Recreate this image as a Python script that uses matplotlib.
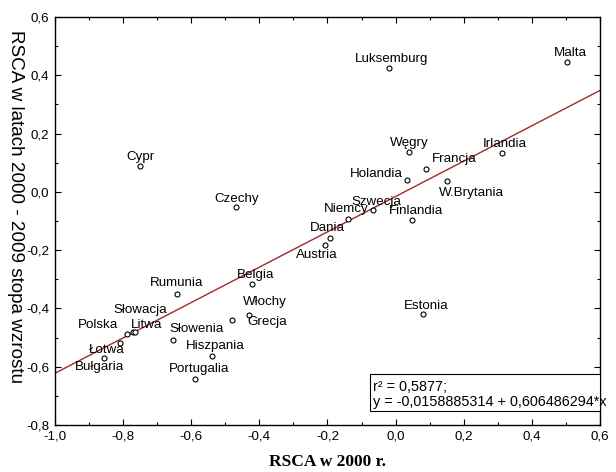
import numpy as np
import matplotlib
matplotlib.use("Agg")
import matplotlib.pyplot as plt
from matplotlib.ticker import MultipleLocator, FuncFormatter
from matplotlib.patches import Rectangle

# RSCA values
countries = ["Luksemburg", "Malta", "Węgry", "Irlandia", "Francja", "Holandia",
             "W.Brytania", "Szwecja", "Niemcy", "Finlandia", "Dania", "Austria",
             "Belgia", "Cypr", "Czechy", "Rumunia", "Estonia", "Włochy", "Grecja",
             "Słowenia", "Hiszpania", "Portugalia", "Słowacja", "Polska", "Litwa",
             "Łotwa", "Bułgaria"]
rsca_2000 = [-0.018, 0.504, 0.040, 0.313, 0.088, 0.034,
             0.152, -0.065, -0.141, 0.048, -0.193, -0.207,
             -0.421, -0.750, -0.469, -0.643, 0.081, -0.430, -0.481,
             -0.654, -0.539, -0.590, -0.770, -0.788, -0.765,
             -0.808, -0.857]
rsca_growth = [0.425, 0.444, 0.136, 0.135, 0.078, 0.042,
               0.037, -0.062, -0.093, -0.098, -0.157, -0.184,
               -0.315, 0.088, -0.052, -0.349, -0.418, -0.422, -0.439,
               -0.508, -0.563, -0.642, -0.480, -0.487, -0.482,
               -0.519, -0.571]

intercept = -0.0158885314
slope = 0.606486294
r2 = 0.5877

# label placement (pixels from the point)
label_offsets = {
    "Luksemburg": (2, 9), "Malta": (3, 9), "Węgry": (0, 9), "Irlandia": (3, 9),
    "Francja": (29, 10), "Holandia": (-31, 6), "W.Brytania": (24, -12),
    "Szwecja": (3, 8), "Niemcy": (-1, 10), "Finlandia": (4, 9), "Dania": (-3, 10),
    "Austria": (-8, -10), "Belgia": (3, 9), "Cypr": (0, 9), "Czechy": (1, 8),
    "Rumunia": (0, 11), "Estonia": (3, 8), "Włochy": (16, 13), "Grecja": (35, -2),
    "Słowenia": (24, 11), "Hiszpania": (3, 10), "Portugalia": (4, 10),
    "Słowacja": (7, 22), "Polska": (-29, 9), "Litwa": (12, 7),
    "Łotwa": (-14, -7), "Bułgaria": (-4, -9),
}

plt.rcParams["font.family"] = ["Liberation Sans", "DejaVu Sans"]

fig = plt.figure(figsize=(6.16, 4.72), dpi=100)
ax = fig.add_axes([0.0893, 0.0996, 0.8847, 0.8644])

xx = np.array([-1.0, 0.6])
ax.plot(xx, intercept + slope * xx, color="#9e2a2b", lw=1.0, zorder=2)

ax.plot(rsca_2000, rsca_growth, "o", ms=3.6, mfc="white", mec="black",
        mew=0.8, zorder=3)

for name, x, y in zip(countries, rsca_2000, rsca_growth):
    dx, dy = label_offsets[name]
    ax.annotate(name, (x, y), xytext=(dx, dy), textcoords="offset pixels",
                ha="center", va="center", fontsize=9.6, zorder=4)

ax.set_xlim(-1.0, 0.6)
ax.set_ylim(-0.8, 0.6)
ax.xaxis.set_major_locator(MultipleLocator(0.2))
ax.yaxis.set_major_locator(MultipleLocator(0.2))
ax.xaxis.set_minor_locator(MultipleLocator(0.1))
ax.yaxis.set_minor_locator(MultipleLocator(0.1))
fmt = FuncFormatter(lambda v, p: f"{v:.1f}".replace(".", ",").replace("-0,0", "0,0"))
ax.xaxis.set_major_formatter(fmt)
ax.yaxis.set_major_formatter(fmt)
ax.tick_params(which="both", direction="in", top=True, right=True,
               labelsize=9.6, width=0.8)
ax.tick_params(which="major", length=4, pad=4)
ax.tick_params(which="minor", length=2.5)
for s in ax.spines.values():
    s.set_linewidth(1.0)

ax.set_xlabel("RSCA w 2000 r.", family="Liberation Serif", fontweight="bold",
              fontsize=12.5, labelpad=8)
ax.set_ylabel("RSCA w latach 2000 - 2009 stopa wzrostu", rotation=270,
              fontsize=13.6)
ax.yaxis.set_label_coords(-0.088, 0.535)

# regression box
ax.add_patch(Rectangle((0.578, 0.034), 0.422, 0.091, transform=ax.transAxes,
                       fc="white", ec="black", lw=0.8, zorder=5))
ax.text(0.584, 0.094, f"r² = {r2:.4f};".replace(".", ","), transform=ax.transAxes,
        ha="left", va="center", fontsize=10.4, zorder=6)
eq = f"y = {intercept:.10f} + {slope:.9f}*x".replace(".", ",")
ax.text(0.584, 0.057, eq, transform=ax.transAxes,
        ha="left", va="center", fontsize=10.4, zorder=6)

fig.savefig("out.png", dpi=100)
